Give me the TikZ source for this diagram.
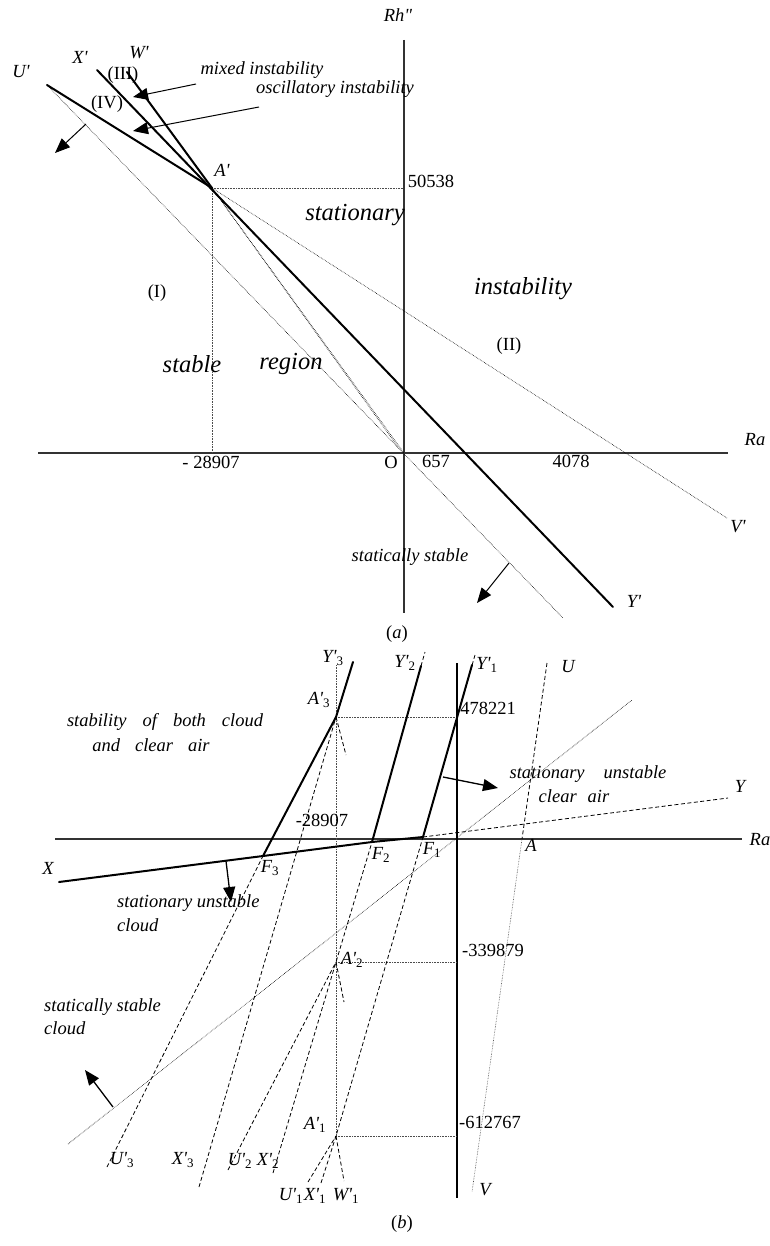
\documentclass[tikz,border=0pt]{standalone}
\usepackage{fontspec}
\setmainfont{Liberation Serif}[Ligatures=TeXOff]
\usetikzlibrary{arrows.meta}
\newcommand\sbs[1]{\textsubscript{\upshape #1}}
\begin{document}
\begin{tikzpicture}[x=1pt,y=-1pt,
  thickl/.style={line width=2pt, line cap=round},
  axisl/.style={line width=1.4pt, black!80},
  thind/.style={line width=0.6pt, densely dotted},
  guide/.style={line width=0.6pt, densely dotted, black!70},
  dsh/.style={line width=0.8pt, dash pattern=on 4pt off 2.5pt},
  arr/.style={line width=1pt, -{Triangle[length=15pt,width=12pt]}},
  lbl/.style={font=\fontsize{18.5}{22}\selectfont\itshape, inner sep=0pt},
  num/.style={font=\fontsize{18.5}{22}\selectfont, inner sep=0pt},
  big/.style={font=\fontsize{24.5}{28}\selectfont\itshape, inner sep=0pt}]
\useasboundingbox (0,0) rectangle (769,1246);

% ================= (a) =================
\coordinate (Ap) at (212,188);
\coordinate (Up) at (47,85);
\coordinate (Xp) at (97,70);
\coordinate (Wp) at (127,72);
\coordinate (Yp) at (613,607);
\coordinate (Vp) at (727,518);
\coordinate (Oa) at (404,453);
\coordinate (Ob) at (398,447);
\coordinate (sE) at (563,618);
\coordinate (raL) at (38,453);
\coordinate (raR) at (728,453);
\coordinate (rhT) at (404,40);
\coordinate (rhB) at (404,613);
\coordinate (ApY) at (404,188);
\coordinate (ApX) at (212,453);

\draw[axisl] (raL) -- (raR);
\draw[axisl] (rhT) -- (rhB);
\draw[guide] (Ap) -- (ApY);
\draw[guide] (Ap) -- (ApX);
\draw[thickl] (Up) -- (Ap);
\draw[thickl] (Xp) -- (Yp);
\draw[thickl] (Wp) -- (Ap);
\draw[thind] (Ap) -- (Vp);
\draw[thind] (Ap) -- (Ob);
\draw[thind] (Ap) -- (Oa);
\draw[thind] (Up) -- (sE);

\coordinate (a1s) at (86,124); \coordinate (a1e) at (55,153);
\coordinate (a2s) at (509,563); \coordinate (a2e) at (477,603);
\coordinate (a3s) at (196,84); \coordinate (a3e) at (133,97);
\coordinate (a4s) at (259,107); \coordinate (a4e) at (133,131);
\draw[arr] (a1s) -- (a1e);
\draw[arr] (a2s) -- (a2e);
\draw[arr] (a3s) -- (a3e);
\draw[arr] (a4s) -- (a4e);

\node[lbl] (tRh) at (398,15) {Rh"};
\node[lbl] (tRa) at (755,440) {Ra};
\node[lbl] (tU) at (21,72) {U'};
\node[lbl] (tX) at (80,57) {X'};
\node[lbl] (tW) at (139,53) {W'};
\node[num] (tIII) at (123,75) {(III)};
\node[num] (tIV) at (107,104) {(IV)};
\node[lbl] (tmix) at (262,70) {mixed instability};
\node[lbl] (tosc) at (335,89) {oscillatory instability};
\node[lbl] (tA) at (222,170) {A'};
\node[num] (t505) at (431,181) {50538};
\node[big] (tsta) at (355,215) {stationary};
\node[big] (tins) at (523,289) {instability};
\node[num] (tI) at (157,293) {(I)};
\node[num] (tII) at (509,346) {(II)};
\node[big] (tstb) at (192,364) {stable};
\node[big] (treg) at (291,364) {region};
\node[num] (t289) at (211,462) {- 28907};
\node[num] (tO) at (391,462) {O};
\node[num] (t657) at (436,461) {657};
\node[num] (t407) at (571,461) {4078};
\node[lbl] (tV) at (738,527) {V'};
\node[lbl] (tY) at (634,601) {Y'};
\node[lbl] (tss) at (410,557) {statically stable};
\node[num] (tcapa) at (397,634) {(\textit{a})};

% ================= (b) =================
\coordinate (F1) at (423,837);
\coordinate (F2) at (372,842);
\coordinate (F3) at (263,856);
\coordinate (X) at (59,882);
\coordinate (Y) at (728,798);
\coordinate (A3) at (336,717);
\coordinate (A2) at (336,962);
\coordinate (A1) at (336,1136);
\coordinate (Y3) at (353,662);
\coordinate (Y2) at (421,666);
\coordinate (Y2x) at (425,652);
\coordinate (Y1) at (472,665);
\coordinate (Y1x) at (475,655);
\coordinate (U3b) at (107,1167);
\coordinate (X3b) at (199,1187);
\coordinate (U2b) at (228,1170);
\coordinate (X2b) at (273,1173);
\coordinate (U1b) at (308,1182);
\coordinate (X1b) at (321,1183);
\coordinate (W1b) at (344,1181);
\coordinate (W2e) at (344,1002);
\coordinate (W3e) at (346,755);
\coordinate (U) at (547,663);
\coordinate (A) at (522,839);
\coordinate (V) at (472,1192);
\coordinate (bL) at (55,839);
\coordinate (bR) at (742,839);
\coordinate (bT) at (457,663);
\coordinate (bB) at (457,1198);
\coordinate (sL) at (68,1144);
\coordinate (sR) at (632,700);
\coordinate (g3) at (457,717);
\coordinate (g2) at (457,962);
\coordinate (g1) at (457,1136);
\coordinate (gT) at (336,665);

\draw[axisl] (bL) -- (bR);
\draw[line width=1.6pt] (bT) -- (bB);
\draw[guide] (A3) -- (g3);
\draw[guide] (A2) -- (g2);
\draw[guide] (A1) -- (g1);
\draw[guide] (gT) -- (A1);
\draw[thind] (sL) -- (sR);
\draw[dsh] (U) -- (A);
\draw[thind, black!70] (A) -- (V);

\draw[dsh] (U3b) -- (F3);
\draw[dsh] (X3b) -- (A3);
\draw[dsh] (U2b) -- (A2);
\draw[dsh] (X2b) -- (A2) -- (F2);
\draw[dsh] (Y2) -- (Y2x);
\draw[dsh] (U1b) -- (A1);
\draw[dsh] (X1b) -- (A1) -- (F1) -- (Y1x);
\draw[dsh] (A1) -- (W1b);
\draw[dsh] (A2) -- (W2e);
\draw[dsh] (A3) -- (W3e);
\draw[dsh] (F1) -- (Y);

\draw[thickl] (X) -- (F3) -- (F2) -- (F1);
\draw[thickl] (F3) -- (A3) -- (Y3);
\draw[thickl] (F2) -- (Y2);
\draw[thickl] (F1) -- (Y1);

\coordinate (b1s) at (226,861); \coordinate (b1e) at (231,902);
\coordinate (b2s) at (443,777); \coordinate (b2e) at (498,788);
\coordinate (b3s) at (113,1107); \coordinate (b3e) at (85,1070);
\draw[arr,line width=1.3pt] (b1s) -- (b1e);
\draw[arr,line width=1.3pt] (b2s) -- (b2e);
\draw[arr,line width=1.3pt] (b3s) -- (b3e);

\node[lbl] (sY3) at (333,658) {Y'\sbs{3}};
\node[lbl] (sY2) at (405,663) {Y'\sbs{2}};
\node[lbl] (sY1) at (487,665) {Y'\sbs{1}};
\node[lbl] (sU) at (568,667) {U};
\node[lbl] (sY) at (740,786) {Y};
\node[lbl] (sRa) at (760,840) {Ra};
\node[lbl] (sX) at (48,868) {X};
\node[lbl] (sA) at (531,845) {A};
\node[lbl] (sF3) at (270,868) {F\sbs{3}};
\node[lbl] (sF2) at (381,855) {F\sbs{2}};
\node[lbl] (sF1) at (432,850) {F\sbs{1}};
\node[lbl] (sA3) at (319,700) {A'\sbs{3}};
\node[lbl] (sA2) at (352,960) {A'\sbs{2}};
\node[lbl] (sA1) at (315,1125) {A'\sbs{1}};
\node[num] (n1) at (322,820) {-28907};
\node[num] (n2) at (488,708) {478221};
\node[num] (n3) at (493,950) {-339879};
\node[num] (n4) at (490,1122) {-612767};
\node[lbl] (sU3) at (122,1160) {U'\sbs{3}};
\node[lbl] (sX3) at (183,1160) {X'\sbs{3}};
\node[lbl] (sU2) at (240,1161) {U'\sbs{2}};
\node[lbl] (sX2) at (268,1161) {X'\sbs{2}};
\node[lbl] (sU1) at (291,1196) {U'\sbs{1}};
\node[lbl] (sX1) at (315,1196) {X'\sbs{1}};
\node[lbl] (sW1) at (346,1196) {W'\sbs{1}};
\node[lbl] (sV) at (485,1190) {V};
\node[num] (capb) at (402,1224) {(\textit{b})};

\node[lbl] (tb1) at (165,722) {stability\hspace{16pt}of\hspace{16pt}both\hspace{16pt}cloud};
\node[lbl] (tb2) at (151,745) {and\hspace{15pt}clear\hspace{15pt}air};
\node[lbl] (tb3) at (588,774) {stationary\hspace{19pt}unstable};
\node[lbl] (tb4) at (574,796) {clear\hspace{11pt}air};
\node[lbl, anchor=west] (tb5) at (117,903) {stationary unstable};
\node[lbl, anchor=west] (tb6) at (117,925) {cloud};
\node[lbl, anchor=west] (tb7) at (44,1007) {statically stable};
\node[lbl, anchor=west] (tb8) at (44,1028) {cloud};
\end{tikzpicture}
\end{document}
